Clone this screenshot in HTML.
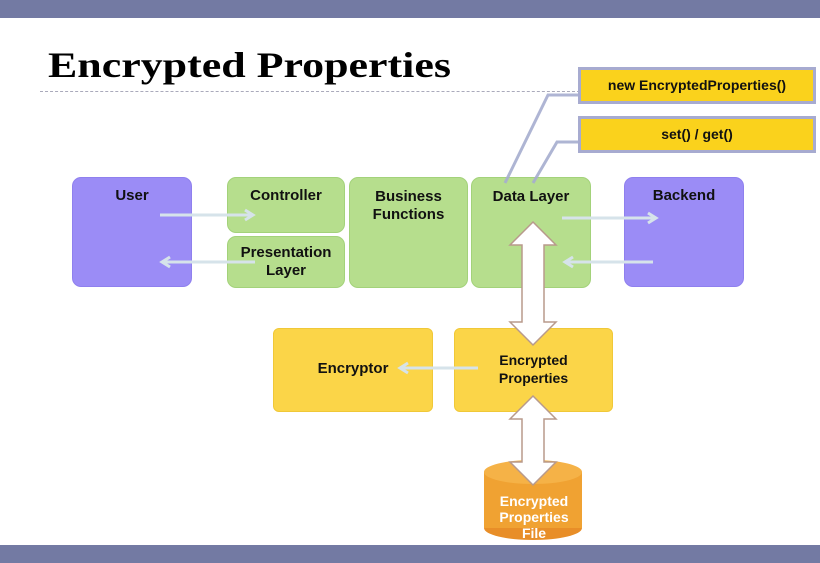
<!DOCTYPE html>
<html><head><style>
body{margin:0;width:820px;height:563px;background:#fff;position:relative;overflow:hidden;font-family:"Liberation Sans",sans-serif}
.bar{position:absolute;left:0;width:820px;background:#737aa3}
.b{position:absolute;border-radius:9px;box-sizing:border-box;font-weight:bold;font-size:15px;text-align:center;color:#111;line-height:18px}
.g{background:#b6de8d;border:1px solid #a3d27a}
.p{background:#9b8cf6;border:1px solid #8f80ee}
.y{background:#fbd548;border:1px solid #f0c838;border-radius:6px}
.c{position:absolute;left:578px;width:238px;background:#fad21c;border:3px solid #a7abd0;box-sizing:border-box;font-weight:bold;font-size:14px;text-align:center;color:#111}
</style></head><body>
<div class="bar" style="top:0;height:18px"></div>
<div class="bar" style="top:545px;height:18px"></div>
<div style="position:absolute;left:48px;top:44px;font-family:'Liberation Serif',serif;font-weight:bold;font-size:36px;color:#000;transform:scaleX(1.22);transform-origin:0 0;white-space:nowrap">Encrypted Properties</div>
<div style="position:absolute;left:40px;top:91px;width:540px;border-top:1px dashed #aab"></div>
<div class="c" style="top:67px;height:37px;line-height:31px">new EncryptedProperties()</div>
<div class="c" style="top:116px;height:37px;line-height:31px">set() / get()</div>
<div class="b p" style="left:72px;top:177px;width:120px;height:110px;padding-top:9px">User</div>
<div class="b g" style="left:227px;top:177px;width:118px;height:56px;padding-top:9px">Controller</div>
<div class="b g" style="left:227px;top:236px;width:118px;height:52px;padding-top:7px">Presentation<br>Layer</div>
<div class="b g" style="left:349px;top:177px;width:119px;height:111px;padding-top:10px">Business<br>Functions</div>
<div class="b g" style="left:471px;top:177px;width:120px;height:111px;padding-top:10px">Data Layer</div>
<div class="b p" style="left:624px;top:177px;width:120px;height:110px;padding-top:9px">Backend</div>
<div class="b y" style="left:273px;top:328px;width:160px;height:84px;padding-top:31px">Encryptor</div>
<div class="b y" style="left:454px;top:328px;width:159px;height:84px;padding-top:22px;font-size:14px">Encrypted<br>Properties</div>
<svg width="820" height="563" style="position:absolute;left:0;top:0">
<g stroke="#a6adcf" stroke-width="3" fill="none" opacity="0.9">
<polyline points="505,183 548,95 578,95"/><polyline points="533,183 557,142 578,142"/>
</g>
<g stroke="#d6e3ea" stroke-width="3" fill="none">
<path d="M160 215H252M245 210l8 5-8 5"/><path d="M255 262H162M170 257l-8 5 8 5"/>
<path d="M562 218H655M648 213l8 5-8 5"/><path d="M653 262H565M573 257l-8 5 8 5"/>
<path d="M478 368H400M408 363l-8 5 8 5"/>
</g>
<path d="M533,222 556,245 544,245 544,322 556,322 533,345 510,322 522,322 522,245 510,245Z" fill="#fff" stroke="#b89a8c" stroke-width="1.5"/>
<ellipse cx="533" cy="528" rx="49" ry="12" fill="#e88e28"/>
<rect x="484" y="472" width="98" height="56" fill="#f0a232"/>
<ellipse cx="533" cy="472" rx="49" ry="12" fill="#f5b247"/>
<path d="M533,396 556,419 544,419 544,462 556,462 533,485 510,462 522,462 522,419 510,419Z" fill="#fff" stroke="#b89a8c" stroke-width="1.5"/>
<text x="534" y="506" fill="#fff" font-weight="bold" font-size="14" text-anchor="middle" font-family="Liberation Sans">Encrypted</text>
<text x="534" y="522" fill="#fff" font-weight="bold" font-size="14" text-anchor="middle" font-family="Liberation Sans">Properties</text>
<text x="534" y="538" fill="#fff" font-weight="bold" font-size="14" text-anchor="middle" font-family="Liberation Sans">File</text>
</svg>
</body></html>
